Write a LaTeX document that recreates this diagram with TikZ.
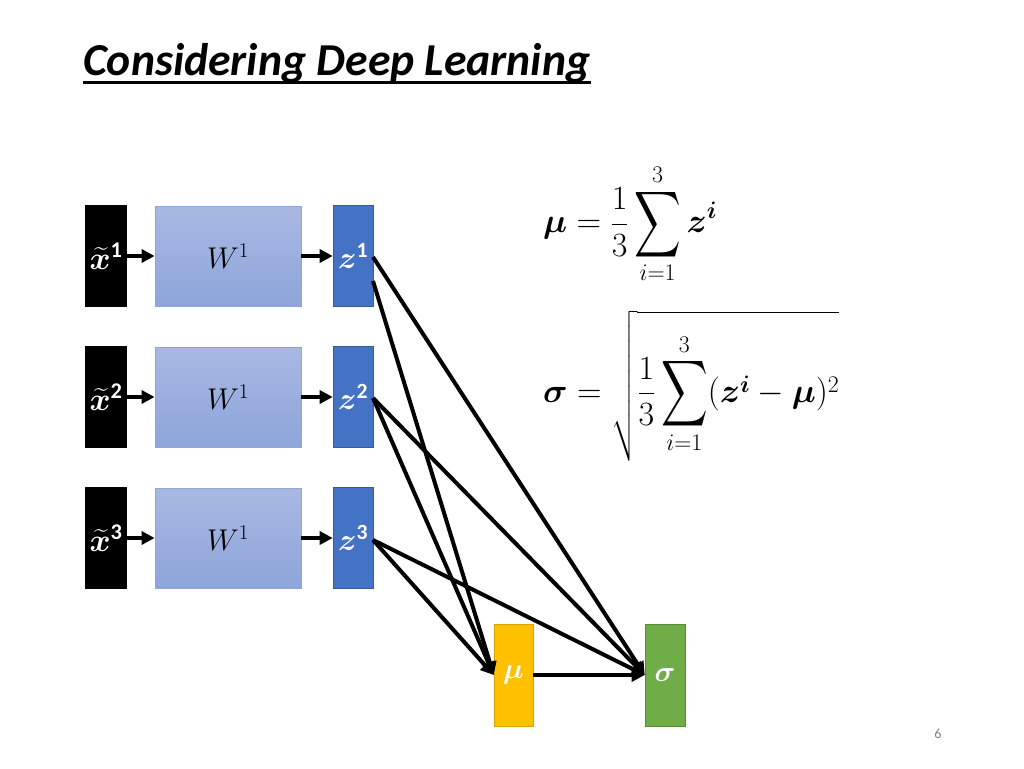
\RequirePackage{fix-cm}
\documentclass[tikz,border=0pt]{standalone}
\usepackage{amsmath,bm}
\usepackage{fontspec}
\setmainfont{Carlito}
\usetikzlibrary{arrows.meta}
\newcommand\bigsummy{\mathop{\vcenter{\hbox{\scalebox{1.3}[1.85]{$\displaystyle\sum$}}}}\limits}
\definecolor{zblue}{HTML}{4472C4}
\definecolor{wtop}{HTML}{A9B8E2}
\definecolor{wbot}{HTML}{8DA5DA}
\definecolor{wedge}{HTML}{8FA6D8}
\definecolor{muyel}{HTML}{FFC000}
\definecolor{sggreen}{HTML}{70AD47}
\tikzset{
  inbox/.style={fill=black,draw=none,minimum width=42pt,minimum height=102pt,inner sep=0pt,text=white,font=\fontsize{32}{36}\selectfont},
  wbox/.style={top color=wtop,bottom color=wbot,draw=wedge,line width=0.8pt,minimum width=146pt,minimum height=100pt,inner sep=0pt,font=\fontsize{30}{34}\selectfont},
  zbox/.style={fill=zblue,draw=zblue!80!black,line width=0.6pt,minimum width=40pt,minimum height=101pt,inner sep=0pt,text=white,font=\fontsize{31}{36}\selectfont},
  ybox/.style={fill=muyel,draw=muyel!85!black,line width=0.6pt,minimum width=39pt,minimum height=102pt,inner sep=0pt,text=white,font=\fontsize{29}{32}\selectfont},
  gbox/.style={fill=sggreen,draw=sggreen!80!black,line width=0.6pt,minimum width=40pt,minimum height=102pt,inner sep=0pt,text=white,font=\fontsize{29}{32}\selectfont},
  conn/.style={line width=4pt,-{Triangle[length=13pt,width=13pt]}},
  formula/.style={anchor=west,inner sep=0pt,font=\fontsize{34}{40}\selectfont}
}
\begin{document}
\begin{tikzpicture}[x=1pt,y=-1pt]
\useasboundingbox (0,0) rectangle (1024,768);
\node[anchor=base west,inner sep=0pt,font=\fontsize{45.7}{50}\selectfont\bfseries\itshape] (title) at (83,75) {Considering Deep Learning};
\draw[line width=3pt] (title.base west) ++(0,7) coordinate (ul1) -- (ul1 -| title.east);

\foreach \i/\y in {1/256,2/397,3/538}{
  \node[inbox] (x\i) at (106,\y) {$\widetilde{\bm{x}}^{\mathbf{\i}}$};
  \node[wbox] (w\i) at (228,\y) {$W^{1}$};
  \node[zbox] (z\i) at (353,\y) {$\bm{z}^{\mathbf{\i}}$};
  \draw[conn] (x\i) -- (w\i);
  \draw[conn] (w\i) -- (z\i);
}
\node[ybox] (mu) at (513.5,675) {$\bm{\mu}$};
\node[gbox] (sg) at (665,675) {$\bm{\sigma}$};

\coordinate (z1a) at (373,257);
\coordinate (z1b) at (373,281);
\coordinate (z2a) at (373,398);
\coordinate (z3a) at (373,540);
\draw[conn] (z1a) -- (sg.west);
\draw[conn] (z1b) -- (mu.west);
\draw[conn] (z2a) -- (mu.west);
\draw[conn] (z2a) -- (sg.west);
\draw[conn] (z3a) -- (mu.west);
\draw[conn] (z3a) -- (sg.west);
\draw[conn] (mu) -- (sg);

\node[formula] (fmu) at (543,224) {$\displaystyle \bm{\mu} = \frac{1}{3}\bigsummy_{i=1}^{3}\bm{z}^{\bm{i}}$};
\node[formula] (fsg) at (543,386) {$\displaystyle \bm{\sigma} = \sqrt{\rule[-58pt]{0pt}{142pt}\frac{1}{3}\bigsummy_{i=1}^{3}(\bm{z}^{\bm{i}} - \bm{\mu})^{2}}$};

\node[text=gray,font=\fontsize{14}{16}\selectfont] (pg) at (938,734) {6};
\end{tikzpicture}
\end{document}
